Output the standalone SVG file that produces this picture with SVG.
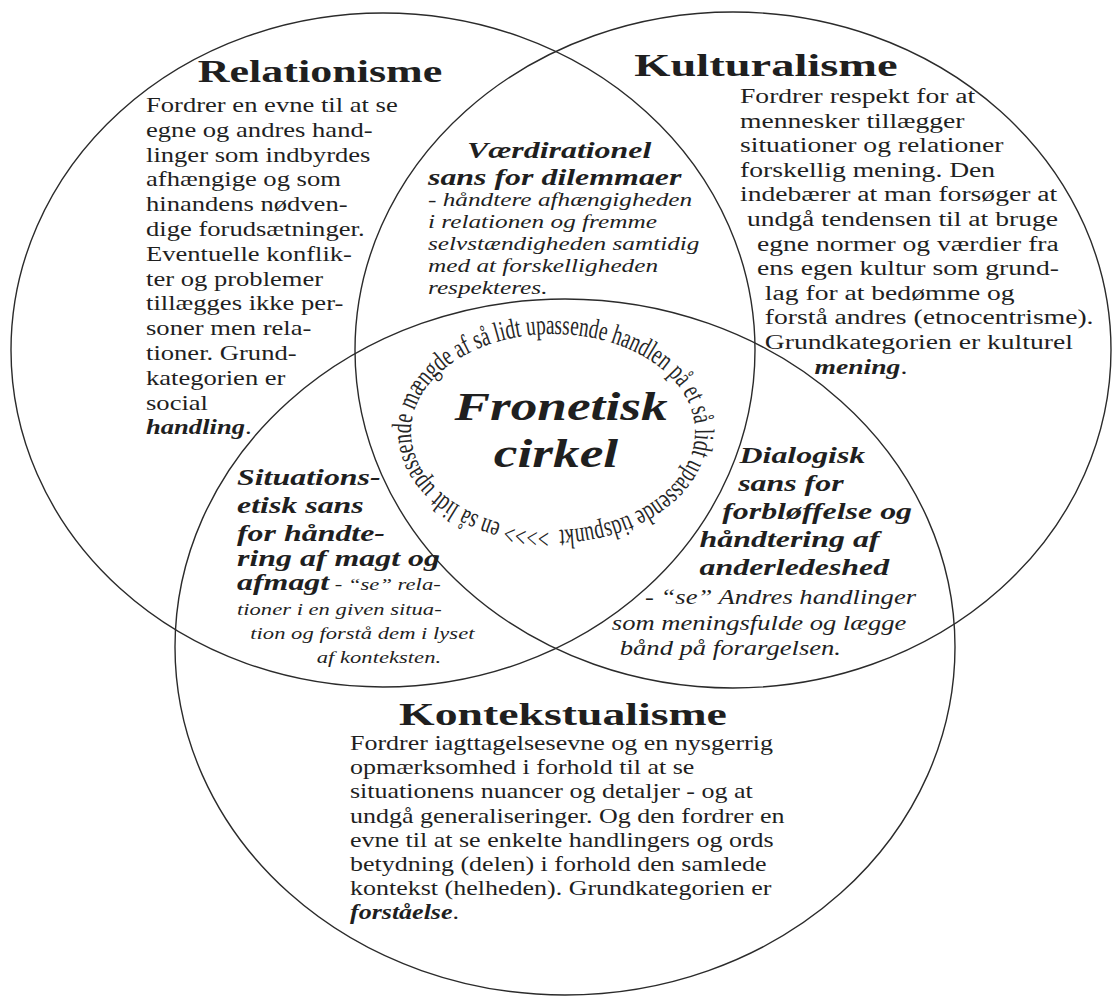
<svg xmlns="http://www.w3.org/2000/svg" width="1112" height="1001" viewBox="0 0 1112 1001">
<style>
.c{fill:none;stroke:#2b2b2b;stroke-width:1.4}
text{font-family:"Liberation Serif","Times New Roman",serif;fill:#1f1f1f}
.t{font-size:31px;font-weight:bold}
.b{font-size:20px}
.h{font-size:24px;font-weight:bold;font-style:italic}
.i{font-size:17px;font-style:italic}
.bi{font-weight:bold;font-style:italic}
.ring{font-size:28px;fill:#262626}
</style>
<defs>
<path id="ringPath" d="M553,530 A142,98 0 1,1 553,334 A142,98 0 1,1 553,530"/>
</defs>
<rect width="1112" height="1001" fill="#ffffff"/>
<g id="circles">
<ellipse id="circle-relationisme" class="c" cx="383" cy="350" rx="372" ry="337"/>
<ellipse id="circle-kulturalisme" class="c" cx="733" cy="350" rx="378" ry="338"/>
<ellipse id="circle-kontekstualisme" class="c" cx="565" cy="647" rx="390" ry="348"/>
</g>
<g id="relationisme">
<text class="t" text-anchor="middle" transform="translate(320,82) scale(1.42,1)">Relationisme</text>
<text class="b" transform="translate(146,112) scale(1.33,1)">
<tspan x="0" y="0">Fordrer en evne til at se</tspan>
<tspan x="0" dy="24.8">egne og andres hand-</tspan>
<tspan x="0" dy="24.8">linger som indbyrdes</tspan>
<tspan x="0" dy="24.8">afhængige og som</tspan>
<tspan x="0" dy="24.8">hinandens nødven-</tspan>
<tspan x="0" dy="24.8">dige forudsætninger.</tspan>
<tspan x="0" dy="24.8">Eventuelle konflik-</tspan>
<tspan x="0" dy="24.8">ter og problemer</tspan>
<tspan x="0" dy="24.8">tillægges ikke per-</tspan>
<tspan x="0" dy="24.8">soner men rela-</tspan>
<tspan x="0" dy="24.8">tioner. Grund-</tspan>
<tspan x="0" dy="24.8">kategorien er</tspan>
<tspan x="0" dy="24.8">social</tspan>
<tspan x="0" dy="24.8" class="bi">handling</tspan><tspan>.</tspan>
</text>
</g>
<g id="kulturalisme">
<text class="t" text-anchor="middle" transform="translate(766,76) scale(1.5,1)">Kulturalisme</text>
<text class="b" transform="translate(740,103) scale(1.38,1)">
<tspan x="0" y="0">Fordrer respekt for at</tspan>
<tspan x="0" dy="24.6">mennesker tillægger</tspan>
<tspan x="0" dy="24.6">situationer og relationer</tspan>
<tspan x="0" dy="24.6">forskellig mening. Den</tspan>
<tspan x="0" dy="24.6">indebærer at man forsøger at</tspan>
<tspan x="5" dy="24.6">undgå tendensen til at bruge</tspan>
<tspan x="12.3" dy="24.6">egne normer og værdier fra</tspan>
<tspan x="12.3" dy="24.6">ens egen kultur som grund-</tspan>
<tspan x="18" dy="24.6">lag for at bedømme og</tspan>
<tspan x="18" dy="24.6">forstå andres (etnocentrisme).</tspan>
<tspan x="18" dy="24.6">Grundkategorien er kulturel</tspan>
<tspan x="54" dy="24.6" class="bi">mening</tspan><tspan>.</tspan>
</text>
</g>
<g id="vaerdirationel">
<text class="h" transform="translate(467,158) scale(1.33,1)">Værdirationel</text>
<text class="h" transform="translate(428,185) scale(1.33,1)">sans for dilemmaer</text>
<text class="i" style="font-size:19px" transform="translate(428,206) scale(1.33,1)">
<tspan x="0" y="0">- håndtere afhængigheden</tspan>
<tspan x="0" dy="22">i relationen og fremme</tspan>
<tspan x="0" dy="22">selvstændigheden samtidig</tspan>
<tspan x="0" dy="22">med at forskelligheden</tspan>
<tspan x="0" dy="22">respekteres.</tspan>
</text>
</g>
<g id="situationsetisk">
<text class="h" transform="translate(237,485) scale(1.33,1)">
<tspan x="0" y="0">Situations-</tspan>
<tspan x="0" dy="28">etisk sans</tspan>
<tspan x="0" dy="28">for håndte-</tspan>
<tspan x="0" dy="25">ring af magt og</tspan>
<tspan x="0" dy="24">afmagt</tspan><tspan class="i" style="font-weight:normal"> - “se” rela-</tspan>
</text>
<text class="i" transform="translate(237,615) scale(1.33,1)">
<tspan x="0" y="0">tioner i en given situa-</tspan>
<tspan x="10" dy="24">tion og forstå dem i lyset</tspan>
<tspan x="60" dy="24">af konteksten.</tspan>
</text>
</g>
<g id="dialogisk">
<text class="h" transform="translate(0,463) scale(1.33,1)">
<tspan x="556" y="0">Dialogisk</tspan>
<tspan x="555" dy="28">sans for</tspan>
<tspan x="543" dy="28">forbløffelse og</tspan>
<tspan x="526" dy="28">håndtering af</tspan>
<tspan x="526" dy="28">anderledeshed</tspan>
</text>
<text class="i" style="font-size:20px" transform="translate(0,604) scale(1.33,1)">
<tspan x="485" y="0">- “se” Andres handlinger</tspan>
<tspan x="460" dy="26">som meningsfulde og lægge</tspan>
<tspan x="466" dy="25">bånd på forargelsen.</tspan>
</text>
</g>
<g id="fronetisk">
<text class="bi" style="font-size:41px" text-anchor="middle" transform="translate(561,420) scale(1.3,1)">Fronetisk</text>
<text class="bi" style="font-size:41px" text-anchor="middle" transform="translate(556,467) scale(1.3,1)">cirkel</text>
<text class="ring"><textPath href="#ringPath" startOffset="4" textLength="750" lengthAdjust="spacingAndGlyphs">&gt;&gt;&gt;&gt; en så lidt upassende mængde af så lidt upassende handlen på et så lidt upassende tidspunkt</textPath></text>
</g>
<g id="kontekstualisme">
<text class="t" style="font-size:32px" text-anchor="middle" transform="translate(563,725) scale(1.43,1)">Kontekstualisme</text>
<text class="b" transform="translate(350,750) scale(1.3,1)">
<tspan x="0" y="0">Fordrer iagttagelsesevne og en nysgerrig</tspan>
<tspan x="0" dy="24.2">opmærksomhed i forhold til at se</tspan>
<tspan x="0" dy="24.2">situationens nuancer og detaljer - og at</tspan>
<tspan x="0" dy="24.2">undgå generaliseringer. Og den fordrer en</tspan>
<tspan x="0" dy="24.2">evne til at se enkelte handlingers og ords</tspan>
<tspan x="0" dy="24.2">betydning (delen) i forhold den samlede</tspan>
<tspan x="0" dy="24.2">kontekst (helheden). Grundkategorien er</tspan>
<tspan x="0" dy="24.2" class="bi">forståelse</tspan><tspan>.</tspan>
</text>
</g>
</svg>
